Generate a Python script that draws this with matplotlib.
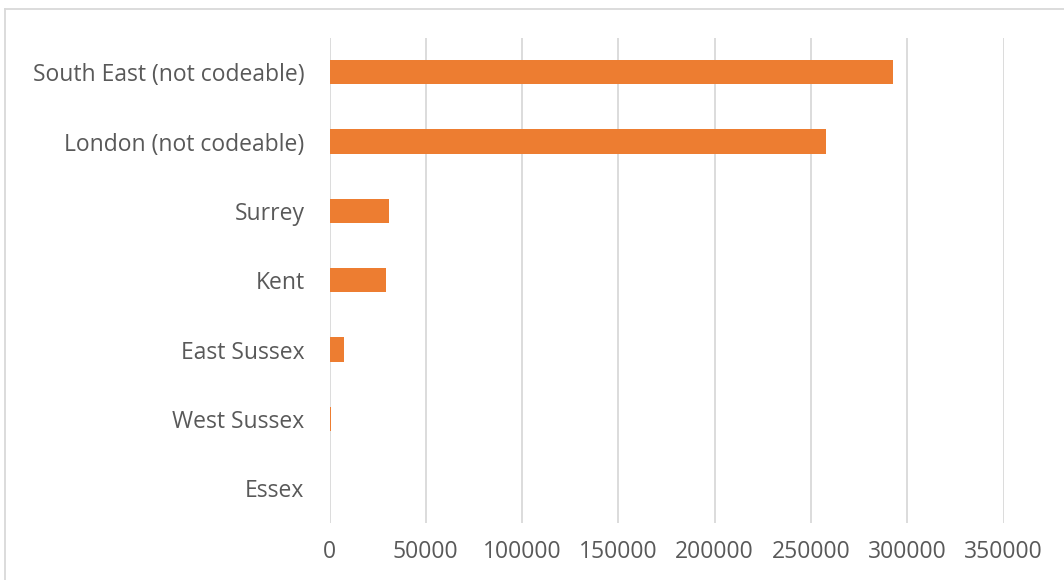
import matplotlib.pyplot as plt
from matplotlib.lines import Line2D

# regions, bottom to top as drawn
regions = ['Essex', 'West Sussex', 'East Sussex', 'Kent', 'Surrey',
           'London (not codeable)', 'South East (not codeable)']
counts = [0, 1000, 7300, 29200, 30800, 257900, 292600]
xticks = [0, 50000, 100000, 150000, 200000, 250000, 300000, 350000]

plt.rcParams['font.family'] = ['Open Sans', 'DejaVu Sans']

fig = plt.figure(figsize=(10.64, 5.8), dpi=100)
ax = fig.add_axes([329.5 / 1064, 1 - 523 / 580, (1003.5 - 329.5) / 1064, (523 - 37.5) / 580])

ax.barh(range(len(regions)), counts, height=0.35, color='#ED7D31', zorder=3)

ax.set_xlim(0, 350000)
ax.set_ylim(-0.5, len(regions) - 0.5)
ax.set_yticks(range(len(regions)))
ax.set_yticklabels(regions)
ax.set_xticks(xticks)
ax.set_xticklabels([str(v) for v in xticks])
ax.tick_params(axis='both', length=0, labelsize=16.5, labelcolor='#595959')
ax.tick_params(axis='y', pad=18)
ax.tick_params(axis='x', pad=12)

ax.grid(axis='x', color='#d9d9d9', linewidth=1.3, zorder=0)
for s in ax.spines.values():
    s.set_visible(False)

# outer chart border (top and left)
fig.add_artist(Line2D([5 / 1064, 1], [1 - 8.5 / 580, 1 - 8.5 / 580],
                      transform=fig.transFigure, color='#d9d9d9', linewidth=1.3))
fig.add_artist(Line2D([5 / 1064, 5 / 1064], [0, 1 - 8.5 / 580],
                      transform=fig.transFigure, color='#d9d9d9', linewidth=1.3))

fig.savefig('out.png', dpi=100)
